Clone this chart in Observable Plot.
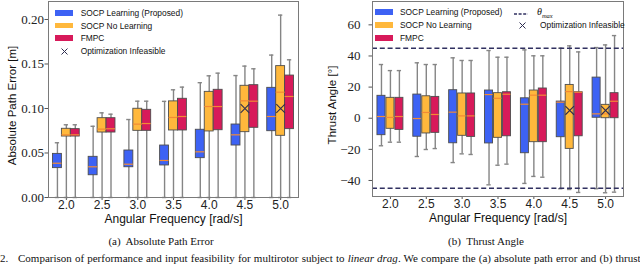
<!DOCTYPE html>
<html><head><meta charset="utf-8">
<script src="https://cdn.jsdelivr.net/npm/d3@7"></script>
<script src="https://cdn.jsdelivr.net/npm/@observablehq/plot@0.6"></script>
<style>
body{margin:0;background:#fff;}
#root{position:relative;width:640px;height:265px;overflow:hidden;background:#fff;}
.panel{position:absolute;top:0;}
.panel svg{overflow:visible;}
g[aria-label="y-axis tick label"], g[aria-label="y-axis tick label"] text{font-family:"Liberation Serif","Times New Roman",serif !important;font-size:13px !important;}
g[aria-label="x-axis tick label"], g[aria-label="x-axis tick label"] text{font-family:"Liberation Sans",Arial,sans-serif !important;font-size:12px !important;}
.lg{position:absolute;font-family:"Liberation Sans",Arial,sans-serif;font-size:8.4px;color:#111;white-space:nowrap;line-height:10px;}
.sw{position:absolute;width:18px;height:5.7px;}
.cap{position:absolute;font-family:"Liberation Serif","Times New Roman",serif;font-size:11px;line-height:11px;color:#111;white-space:nowrap;}
</style></head>
<body><div id="root"></div>
<script>
// ---------------- data ----------------
const frequencies = [2.0, 2.5, 3.0, 3.5, 4.0, 4.5, 5.0];
const methods = ["SOCP Learning (Proposed)", "SOCP No Learning", "FMPC"];
const methodColors = ["#3d62f4", "#ffb83c", "#d71a5a"];

// each entry: [lower whisker, Q1, median, Q3, upper whisker]
const errSocpLearning = [
  [0, 0.033, 0.0385, 0.049, 0.0615],
  [0, 0.025, 0.0345, 0.0457, 0.080],
  [0, 0.034, 0.0374, 0.0528, 0.0876],
  [0, 0.036, 0.0416, 0.0584, 0.108],
  [0, 0.0442, 0.0513, 0.0761, 0.129],
  [0, 0.0584, 0.0704, 0.082, 0.137],
  [0, 0.0745, 0.091, 0.1232, 0.160]
];
const errSocpNoLearning = [
  [0, 0.0685, 0.0704, 0.0772, 0.0817],
  [0, 0.073, 0.0768, 0.0891, 0.0951],
  [0, 0.0749, 0.0824, 0.0997, 0.1082],
  [0, 0.0753, 0.0899, 0.108, 0.121],
  [0, 0.0742, 0.1022, 0.1187, 0.1367],
  [0, 0.0734, 0.1086, 0.1255, 0.1476],
  [0, 0.0693, 0.1183, 0.1476, 0.2049]
];
const errFmpc = [
  [0, 0.0685, 0.0704, 0.0768, 0.0817],
  [0, 0.073, 0.0772, 0.0891, 0.0936],
  [0, 0.0749, 0.0831, 0.0985, 0.1082],
  [0, 0.0753, 0.091, 0.1109, 0.124],
  [0, 0.0756, 0.1022, 0.121, 0.1397],
  [0, 0.0783, 0.1082, 0.1262, 0.1446],
  [0, 0.0768, 0.1135, 0.137, 0.1547]
];
const angleSocpLearning = [
  [-17.7, -10.9, 1.1, 14.4, 34.5],
  [-24.6, -11.9, -0.2, 15.2, 35.6],
  [-28.5, -16.1, 3.9, 18.0, 38.8],
  [-42.8, -16.2, 15.2, 17.8, 43.5],
  [-41.9, -22.5, 9.0, 12.8, 43.9],
  [-45.3, -12.2, 10.3, 10.7, 45.0],
  [-45.3, 0.3, 2.8, 26.1, 45.4]
];
const angleSocpNoLearning = [
  [-15.4, -6.8, 0.5, 13.1, 30.6],
  [-20.1, -9.8, 3.7, 14.1, 34.5],
  [-22.9, -11.3, 1.5, 15.9, 37.1],
  [-30.2, -12.6, 12.8, 16.1, 39.2],
  [-37.4, -15.4, 14.8, 17.8, 40.1],
  [-45.8, -19.7, 17.1, 21.4, 46.5],
  [-47.9, 0, 2.8, 8.6, 47.1]
];
const angleFmpc = [
  [-15.4, -7.5, 1.1, 13.1, 30.6],
  [-19.5, -9.4, 2.4, 13.7, 34.5],
  [-23.3, -12.0, 1.5, 15.9, 37.1],
  [-29.5, -11.6, 15.4, 16.7, 39.2],
  [-37.9, -15.4, 14.8, 19.1, 40.1],
  [-47.7, -11.6, 16.7, 16.7, 42.6],
  [-47.5, 0, 10.9, 16.1, 53.1]
];
const infeasibleFreq = [4.5, 5.0];
const infeasibleMethod = "SOCP No Learning";
const infeasibleErr = [0.10, 0.10];
const infeasibleAngle = [5, 5];
const thetaMax = 45;
const errTicks = [0, 0.05, 0.10, 0.15, 0.20];
const angleTicks = [-40, -20, 0, 20, 40, 60];

// ---------------- helpers ----------------
const STEP = 0.125;
function toRows(seriesList) {
  return seriesList.flatMap((s, k) => s.map((v, i) => ({
    freq: frequencies[i], k, method: methods[k],
    lo: v[0], q1: v[1], med: v[2], q3: v[3], hi: v[4]
  })));
}
const center = d => d.freq + (d.k - 1) * STEP;
const minusFmt = d => (d < 0 ? "\u2212" + Math.abs(d) : String(d));

function panel({rows, infeasible, yDomain, yTicks, yFormat, yLabel, boxW, mL, mR, mB, tickPad, labelDx, labelDy, extra = []}) {
  const half = boxW / 2, capH = 0.03;
  return Plot.plot({
    width: 320, height: 232,
    marginTop: 1, marginBottom: mB, marginLeft: mL, marginRight: mR,
    style: {background: "transparent", fontFamily: "Liberation Sans, Arial, sans-serif", color: "#222"},
    x: {domain: [1.75, 5.25]},
    y: {domain: yDomain},
    color: {domain: methods, range: methodColors},
    marks: [
      Plot.axisX({ticks: frequencies, tickFormat: d => d.toFixed(1), tickSize: 3, tickPadding: 0, label: null, stroke: "#555",
        fontFamily: "Liberation Sans, Arial, sans-serif", fontSize: 12}),
      Plot.axisY({ticks: yTicks, tickFormat: yFormat, tickSize: 3.5, tickPadding: tickPad, label: null, stroke: "#555",
        fontFamily: "Liberation Serif, Times New Roman, serif", fontSize: 13}),
      Plot.ruleX(rows, {x: center, y1: "lo", y2: "hi", stroke: "#858585", strokeWidth: 1.4}),
      Plot.ruleY(rows, {y: "hi", x1: d => center(d) - capH, x2: d => center(d) + capH, stroke: "#858585", strokeWidth: 1.4}),
      Plot.ruleY(rows, {y: "lo", x1: d => center(d) - capH, x2: d => center(d) + capH, stroke: "#858585", strokeWidth: 1.4}),
      Plot.rect(rows, {x1: d => center(d) - half, x2: d => center(d) + half, y1: "q1", y2: "q3", fill: "method", stroke: "#4d4d4d", strokeWidth: 0.9}),
      Plot.ruleY(rows, {y: "med", x1: d => center(d) - half, x2: d => center(d) + half, stroke: "#f28a35", strokeWidth: 1.2}),
      Plot.dot(infeasible, {x: d => d.freq + (methods.indexOf(d.method) - 1) * STEP, y: "v", symbol: "times", r: 4, stroke: "#2e2e50", strokeWidth: 1.1}),
      ...extra,
      Plot.frame({stroke: "#7a7a7a", strokeWidth: 1}),
      Plot.text([yLabel], {frameAnchor: "left", dx: labelDx, dy: labelDy, rotate: -90, textAnchor: "middle", lineAnchor: "middle",
        fontFamily: "Liberation Sans, Arial, sans-serif", fontSize: 11.5, fill: "#111"}),
      Plot.text(["Angular Frequency [rad/s]"], {frameAnchor: "bottom", dy: 17, lineAnchor: "top", textAnchor: "middle",
        fontFamily: "Liberation Sans, Arial, sans-serif", fontSize: 12, fill: "#111"})
    ]
  });
}

const root = document.getElementById("root");
function place(el, left) { const d = document.createElement("div"); d.className = "panel"; d.style.left = left + "px"; d.appendChild(el); root.appendChild(d); }

place(panel({
  rows: toRows([errSocpLearning, errSocpNoLearning, errFmpc]),
  infeasible: infeasibleFreq.map((f, i) => ({freq: f, method: infeasibleMethod, v: infeasibleErr[i]})),
  yDomain: [0, 0.2202], yTicks: errTicks, yFormat: d3.format(".2f"),
  yLabel: "Absolute Path Error [m]", boxW: 0.125, mL: 48, mR: 22, mB: 35, tickPad: 1, labelDx: -36, labelDy: 6
}), 0);

place(panel({
  rows: toRows([angleSocpLearning, angleSocpNoLearning, angleFmpc]),
  infeasible: infeasibleFreq.map((f, i) => ({freq: f, method: infeasibleMethod, v: infeasibleAngle[i]})),
  yDomain: [-50.3, 75], yTicks: angleTicks, yFormat: minusFmt,
  yLabel: "Thrust Angle [\u00b0]", boxW: 0.112, mL: 52, mR: 17, mB: 36, tickPad: 8.5, labelDx: -40, labelDy: 6,
  extra: [Plot.ruleY([thetaMax, -thetaMax], {stroke: "#303060", strokeWidth: 1.6, strokeDasharray: "5,2.8"})]
}), 320);

// ---------------- legends ----------------
function div(cls, left, top, html, extraStyle = "") {
  const d = document.createElement("div"); d.className = cls;
  d.style.left = left + "px"; d.style.top = top + "px"; d.innerHTML = html;
  if (extraStyle) d.style.cssText += extraStyle;
  root.appendChild(d); return d;
}
function timesIcon(cx, cy) {
  div("lg", cx - 3.5, cy - 3.5, '<svg width="7" height="7"><path d="M0.5,0.5L6.5,6.5M0.5,6.5L6.5,0.5" stroke="#2e2e50" stroke-width="1"/></svg>', "line-height:0;");
}
function legend(swLeft, textLeft, top0, gap, withTimes) {
  methods.forEach((m, k) => {
    const cy = top0 + k * gap;
    div("sw", swLeft, cy - 2.85, "", "background:" + methodColors[k] + ";");
    div("lg", textLeft, cy - 5, m);
  });
  if (withTimes) {
    const cy = top0 + 3 * gap;
    timesIcon(swLeft + 9, cy);
    div("lg", textLeft, cy - 5, "Optimization Infeasible");
  }
}
legend(55, 80.7, 12.7, 12.8, true);
legend(375, 400, 12.3, 13, false);
// theta max + infeasible column in right legend
div("lg", 514, 11.5, '<svg width="14" height="2"><line x1="0" y1="1" x2="14" y2="1" stroke="#303060" stroke-width="1.4" stroke-dasharray="3,1.6"/></svg>', "line-height:0;");
div("lg", 537, 6.5, '<span style="font-family:\'Liberation Serif\',serif;font-style:italic;font-size:10px;">\u03b8<sub style="font-size:6.5px;">max</sub></span>');
timesIcon(522, 25.3);
div("lg", 540, 20.3, "Optimization Infeasible");

// ---------------- captions ----------------
div("cap", 0, 235.5, "(a)&nbsp; Absolute Path Error", "width:322px;text-align:center;");
div("cap", 326, 235.8, "(b)&nbsp; Thrust Angle", "width:320px;text-align:center;");
div("cap", 0, 253, "2.", "font-size:11px;");
div("cap", 18, 253, "Comparison of performance and input feasibility for multirotor subject to <i>linear drag</i>. We compare the (a) absolute path error and (b) thrust", "font-size:11px;word-spacing:0.4px;");
</script>
</body></html>
